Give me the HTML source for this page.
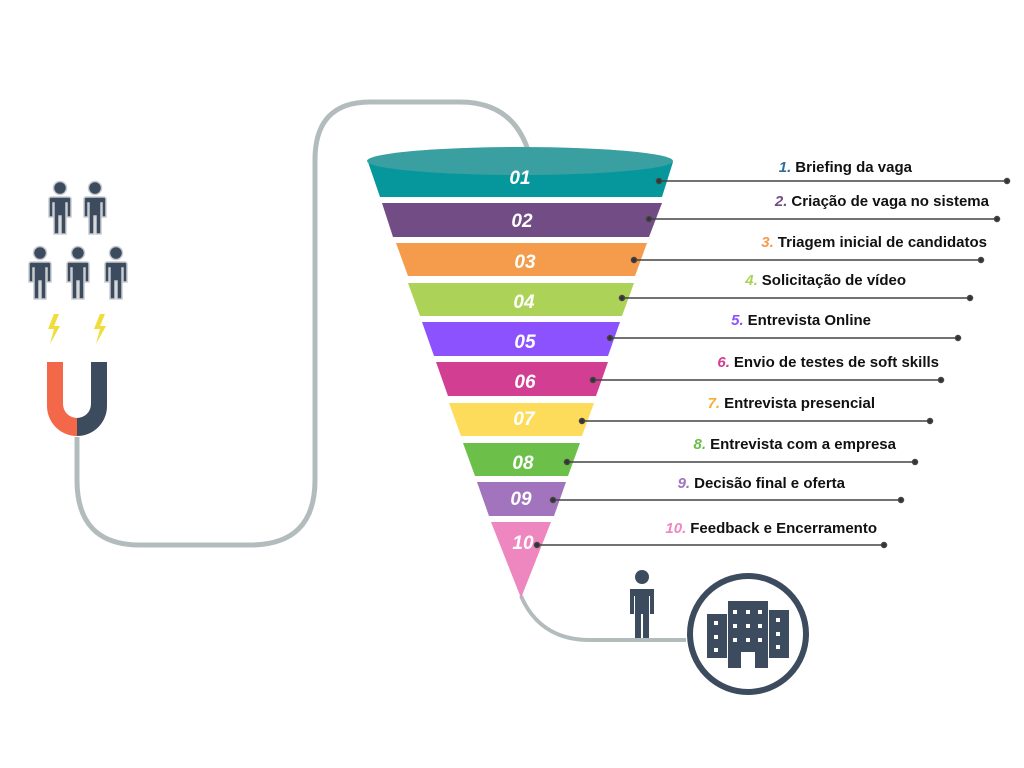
<!DOCTYPE html>
<html><head><meta charset="utf-8"><style>
body{margin:0;width:1024px;height:768px;background:#fff;overflow:hidden;position:relative;font-family:"Liberation Sans",sans-serif}
.l{position:absolute;font-weight:bold;font-size:15px;color:#111;white-space:nowrap;transform:translateX(-100%)}
.l i{margin-right:4px}
</style></head><body>
<svg width="1024" height="768" style="position:absolute;left:0;top:0">
<defs>
<g id="p"><circle cx="0" cy="-22" r="6.5"/><path d="M-9,-13 h18 a2,2 0 0 1 2,2 v18 h-4 v-14 h-1 v31 h-5 v-18 h-2 v18 h-5 v-31 h-1 v14 h-4 v-18 a2,2 0 0 1 2,-2z"/></g>
</defs>
<path d="M77,437 L77,480 Q77,545 140,545 L250,545 Q315,545 315,480 L315,160 Q315,102 370,102 L460,102 Q512,102 528,150" fill="none" stroke="#b3bcbc" stroke-width="5"/>
<path d="M521,596 Q540,640 590,640 L686,640" fill="none" stroke="#b3bcbc" stroke-width="4"/>
<g fill="#3d4b5e" stroke="#c8ccd0" stroke-width="1.5">
<use href="#p" x="60" y="210"/><use href="#p" x="95" y="210"/>
<use href="#p" x="40" y="275"/><use href="#p" x="78" y="275"/><use href="#p" x="116" y="275"/>
</g>
<g fill="#f0dc3a"><path d="M54,314 l-6,15 h6 l-4,15 l10,-18 h-6 l5,-12z"/><path d="M100,314 l-6,15 h6 l-4,15 l10,-18 h-6 l5,-12z"/></g>
<path d="M47,362 h16 v42 a14,14 0 0 0 14,14 v18 a30,30 0 0 1 -30,-30z" fill="#f4684a"/>
<path d="M107,362 h-16 v42 a14,14 0 0 1 -14,14 v18 a30,30 0 0 0 30,-30z" fill="#3d4b5e"/>
<path d="M368,162 L380,197 L662,197 L673,162z" fill="#06979c"/>
<ellipse cx="520" cy="161" rx="153" ry="14" fill="#3a9fa0"/>
<path d="M382,203 L393,237 L649,237 L662,203z" fill="#714c85"/>
<path d="M396,243 L408,276 L635,276 L647,243z" fill="#f49c4c"/>
<path d="M408,283 L420,316 L622,316 L634,283z" fill="#add258"/>
<path d="M422,322 L434,356 L608,356 L620,322z" fill="#8c52fd"/>
<path d="M436,362 L448,396 L596,396 L608,362z" fill="#d13e92"/>
<path d="M449,403 L461,436 L582,436 L594,403z" fill="#fddc5c"/>
<path d="M463,443 L475,476 L568,476 L580,443z" fill="#6cc04a"/>
<path d="M477,482 L489,516 L554,516 L566,482z" fill="#a274bd"/>
<path d="M491,522 L551,522 L521,598z" fill="#ee87bf"/>
<g fill="#fff" font-family="Liberation Sans" font-weight="bold" font-style="italic" font-size="19" text-anchor="middle">
<text x="520" y="184">01</text><text x="522" y="227">02</text><text x="525" y="268">03</text><text x="524" y="308">04</text><text x="525" y="348">05</text><text x="525" y="388">06</text><text x="524" y="425">07</text><text x="523" y="469">08</text><text x="521" y="505">09</text><text x="523" y="549">10</text>
</g>
<g stroke="#444" stroke-width="1.5" fill="#333">
<line x1="659" y1="181" x2="1007" y2="181"/><circle cx="659" cy="181" r="2.5"/><circle cx="1007" cy="181" r="2.5"/>
<line x1="649" y1="219" x2="997" y2="219"/><circle cx="649" cy="219" r="2.5"/><circle cx="997" cy="219" r="2.5"/>
<line x1="634" y1="260" x2="981" y2="260"/><circle cx="634" cy="260" r="2.5"/><circle cx="981" cy="260" r="2.5"/>
<line x1="622" y1="298" x2="970" y2="298"/><circle cx="622" cy="298" r="2.5"/><circle cx="970" cy="298" r="2.5"/>
<line x1="610" y1="338" x2="958" y2="338"/><circle cx="610" cy="338" r="2.5"/><circle cx="958" cy="338" r="2.5"/>
<line x1="593" y1="380" x2="941" y2="380"/><circle cx="593" cy="380" r="2.5"/><circle cx="941" cy="380" r="2.5"/>
<line x1="582" y1="421" x2="930" y2="421"/><circle cx="582" cy="421" r="2.5"/><circle cx="930" cy="421" r="2.5"/>
<line x1="567" y1="462" x2="915" y2="462"/><circle cx="567" cy="462" r="2.5"/><circle cx="915" cy="462" r="2.5"/>
<line x1="553" y1="500" x2="901" y2="500"/><circle cx="553" cy="500" r="2.5"/><circle cx="901" cy="500" r="2.5"/>
<line x1="537" y1="545" x2="884" y2="545"/><circle cx="537" cy="545" r="2.5"/><circle cx="884" cy="545" r="2.5"/>
</g>
<g fill="#3d4b5e">
<circle cx="642" cy="577" r="7"/><path d="M630,589 h24 v25 h-4 v-18 h-1 v42 h-6 v-24 h-2 v24 h-6 v-42 h-1 v18 h-4z"/>
<circle cx="748" cy="634" r="58" fill="none" stroke="#3d4b5e" stroke-width="6"/>
<rect x="707" y="614" width="20" height="44"/><rect x="769" y="610" width="20" height="48"/>
<rect x="728" y="601" width="40" height="67"/>
</g>
<g fill="#fff">
<rect x="733" y="610" width="4" height="4"/><rect x="746" y="610" width="4" height="4"/><rect x="758" y="610" width="4" height="4"/>
<rect x="733" y="624" width="4" height="4"/><rect x="746" y="624" width="4" height="4"/><rect x="758" y="624" width="4" height="4"/>
<rect x="733" y="638" width="4" height="4"/><rect x="746" y="638" width="4" height="4"/><rect x="758" y="638" width="4" height="4"/>
<rect x="741" y="652" width="14" height="16"/>
<rect x="714" y="621" width="4" height="4"/><rect x="714" y="635" width="4" height="4"/><rect x="714" y="648" width="4" height="4"/>
<rect x="776" y="618" width="4" height="4"/><rect x="776" y="632" width="4" height="4"/><rect x="776" y="645" width="4" height="4"/>
</g>
</svg>
<div class="l" style="left:912px;top:159px"><i style="color:#2f6e9c">1.</i>Briefing da vaga</div>
<div class="l" style="left:989px;top:193px"><i style="color:#714c85">2.</i>Criação de vaga no sistema</div>
<div class="l" style="left:987px;top:234px"><i style="color:#f49c4c">3.</i>Triagem inicial de candidatos</div>
<div class="l" style="left:906px;top:272px"><i style="color:#add258">4.</i>Solicitação de vídeo</div>
<div class="l" style="left:871px;top:312px"><i style="color:#8c52fd">5.</i>Entrevista Online</div>
<div class="l" style="left:939px;top:354px"><i style="color:#d13e92">6.</i>Envio de testes de soft skills</div>
<div class="l" style="left:875px;top:395px"><i style="color:#f4b030">7.</i>Entrevista presencial</div>
<div class="l" style="left:896px;top:436px"><i style="color:#6cc04a">8.</i>Entrevista com a empresa</div>
<div class="l" style="left:845px;top:475px"><i style="color:#a274bd">9.</i>Decisão final e oferta</div>
<div class="l" style="left:877px;top:520px"><i style="color:#ee87bf">10.</i>Feedback e Encerramento</div>
</body></html>
